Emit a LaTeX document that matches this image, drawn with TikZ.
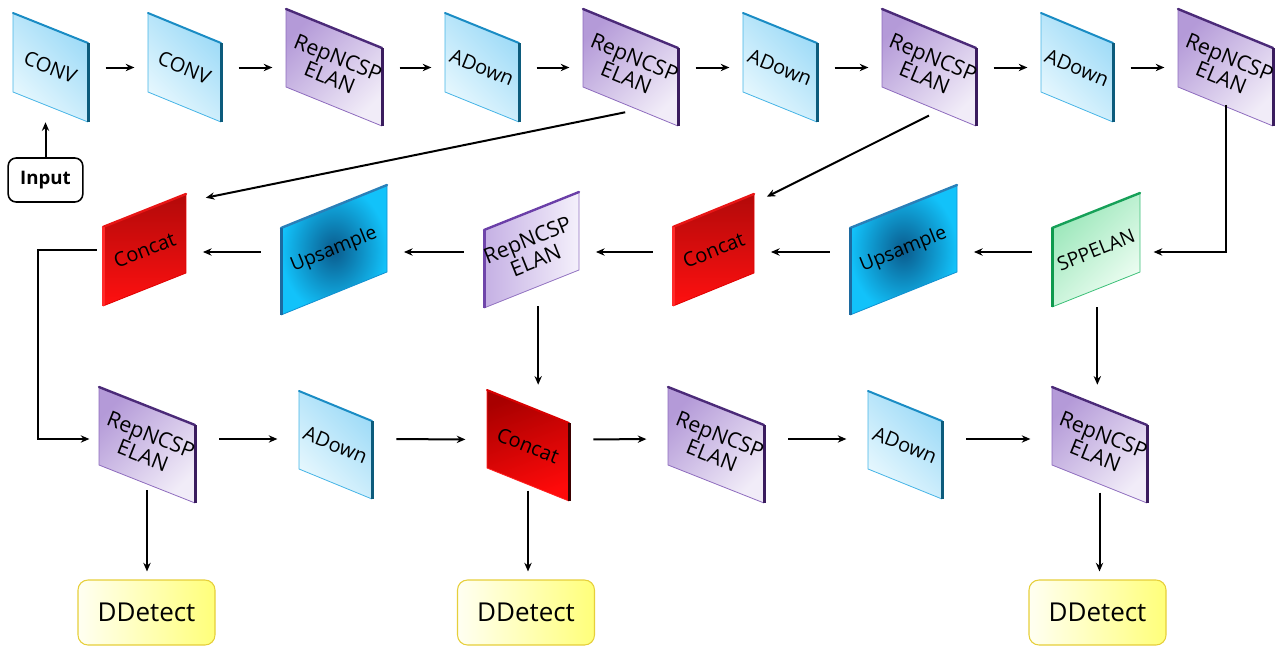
\documentclass[tikz,border=0pt]{standalone}
\usepackage{fontspec}
\setmainfont{Open Sans}
\usetikzlibrary{arrows.meta}
% colours
\definecolor{cCyA}{HTML}{9CDAF7}
\definecolor{cCyB}{HTML}{E8F8FE}
\definecolor{cCyE}{HTML}{1A8CC4}
\definecolor{cCyD}{HTML}{0C5B7C}
\definecolor{cCyL}{HTML}{45B4E6}
\definecolor{cPuA}{HTML}{B49AD8}
\definecolor{cPuB}{HTML}{F1ECF8}
\definecolor{cPuE}{HTML}{4B2A78}
\definecolor{cPuD}{HTML}{3A1C5E}
\definecolor{cPuL}{HTML}{8E6CBE}
\definecolor{cPvA}{HTML}{C5B0E4}
\definecolor{cPvB}{HTML}{F4F0FB}
\definecolor{cPvE}{HTML}{6B3FA8}
\definecolor{cPvD}{HTML}{6F45AA}
\definecolor{cPvL}{HTML}{9070C0}
\definecolor{cRdA}{HTML}{B20A0A}
\definecolor{cRdB}{HTML}{FF1010}
\definecolor{cRdE}{HTML}{E81515}
\definecolor{cRdD}{HTML}{FF2A2A}
\definecolor{cRdL}{HTML}{E00000}
\definecolor{cRbA}{HTML}{A80000}
\definecolor{cRbB}{HTML}{FF0A0A}
\definecolor{cRbE}{HTML}{D80000}
\definecolor{cRbD}{HTML}{3A0000}
\definecolor{cRbL}{HTML}{FF2020}
\definecolor{cUpA}{HTML}{0A5A8C}
\definecolor{cUpB}{HTML}{12C2FA}
\definecolor{cUpE}{HTML}{2A7FB8}
\definecolor{cUpD}{HTML}{1C6AA0}
\definecolor{cUpL}{HTML}{1090D0}
\definecolor{cGrA}{HTML}{98E6B8}
\definecolor{cGrB}{HTML}{F0FEF4}
\definecolor{cGrE}{HTML}{16A058}
\definecolor{cGrD}{HTML}{0E9A4E}
\definecolor{cGrL}{HTML}{3CC078}
\definecolor{cDdA}{HTML}{FFFFF2}
\definecolor{cDdB}{HTML}{FFFF7A}
\definecolor{cDdE}{HTML}{E6CF3A}

\tikzset{
  arr/.style={line width=1.5pt,-{Stealth[length=6.5pt,width=5.5pt]}},
  r1/.style={arr,shorten <=13pt,shorten >=10pt},
  r2/.style={arr,shorten <=15pt,shorten >=12.5pt,transform canvas={yshift=-1.5pt}},
  r3/.style={arr,shorten <=18pt,shorten >=16pt,transform canvas={yshift=4.5pt}},
  btxt/.style={align=center,inner sep=0pt},
  % cyan (CONV / ADown)
  cyF/.style={top color=cCyA,bottom color=cCyB,shading angle=-45},
  cyT/.style={draw=cCyE,line width=1.5pt},
  cyS/.style={draw=cCyD,line width=2.25pt},
  cyL/.style={draw=cCyL,line width=0.6pt},
  cyX/.style={btxt,font=\fontsize{15}{17}\selectfont},
  % purple, falling
  puF/.style={top color=cPuA,bottom color=cPuB,shading angle=45},
  puT/.style={draw=cPuE,line width=1.8pt},
  puS/.style={draw=cPuD,line width=2.25pt},
  puL/.style={draw=cPuL,line width=0.6pt},
  puX/.style={btxt,font=\fontsize{16}{16.5}\selectfont},
  % purple, rising
  pvF/.style={left color=cPvA,right color=cPvB},
  pvT/.style={draw=cPvE,line width=1.8pt},
  pvS/.style={draw=cPvD,line width=2.25pt},
  pvL/.style={draw=cPvL,line width=0.6pt},
  pvX/.style={btxt,font=\fontsize{16}{16.5}\selectfont},
  % red, rising
  rdF/.style={top color=cRdA,bottom color=cRdB},
  rdT/.style={draw=cRdE,line width=1.8pt},
  rdS/.style={draw=cRdD,line width=2.25pt},
  rdL/.style={draw=cRdL,line width=0.6pt},
  rdX/.style={btxt,font=\fontsize{15}{17}\selectfont},
  % red, falling
  rbF/.style={top color=cRbA,bottom color=cRbB,shading angle=20},
  rbT/.style={draw=cRbE,line width=1.5pt},
  rbS/.style={draw=cRbD,line width=2.25pt},
  rbL/.style={draw=cRbL,line width=0.6pt},
  rbX/.style={btxt,font=\fontsize{15}{17}\selectfont},
  % upsample
  upF/.style={inner color=cUpA,outer color=cUpB},
  upT/.style={draw=cUpE,line width=1.8pt},
  upS/.style={draw=cUpD,line width=2.25pt},
  upL/.style={draw=cUpL,line width=0.6pt},
  upX/.style={btxt,font=\fontsize{14.5}{17}\selectfont},
  % green
  grF/.style={top color=cGrA,bottom color=cGrB,shading angle=45},
  grT/.style={draw=cGrE,line width=1.8pt},
  grS/.style={draw=cGrD,line width=2.25pt},
  grL/.style={draw=cGrL,line width=0.6pt},
  grX/.style={btxt,font=\fontsize{14.5}{17}\selectfont},
  ddbox/.style={draw=cDdE,line width=0.8pt,rounded corners=7.5pt,left color=cDdA,right color=cDdB,
    minimum width=102.75pt,minimum height=48.75pt,inner sep=0pt,font=\fontsize{19.5}{22}\selectfont},
  inbox/.style={draw=black,line width=1.2pt,rounded corners=6pt,fill=white,
    minimum width=56pt,minimum height=33pt,inner sep=0pt,font=\bfseries\fontsize{14}{16}\selectfont},
}

% falling panel: name, x1, x2, y top-left, skew, height, kind, text
\newcommand\blkd[8]{%
  \pgfmathsetmacro\bw{#3-#2}%
  \pgfmathsetmacro\bwpt{\bw*0.75}%
  \pgfmathsetmacro\bang{-atan((#5)/\bw)}%
  \pgfmathsetmacro\bcx{(#2+#3)/2}%
  \pgfmathsetmacro\bcy{#4+((#5)+(#6))/2}%
  \pgfmathsetmacro\bhpt{(abs(#5)+#6)*0.75}%
  \pgfmathsetmacro\yb{#4+(#5)}%
  \pgfmathsetmacro\yc{#4+(#5)+(#6)}%
  \pgfmathsetmacro\yd{#4+(#6)}%
  \coordinate (#1-a) at (#2,#4);
  \coordinate (#1-b) at (#3,\yb);
  \coordinate (#1-c) at (#3,\yc);
  \coordinate (#1-d) at (#2,\yd);
  \shade[#7F] (#1-a) -- (#1-b) -- (#1-c) -- (#1-d) -- cycle;
  \draw[#7L] (#1-a) -- (#1-d) -- (#1-c);
  \draw[#7T,line cap=round] (#1-a) -- (#1-b);
  \draw[#7S] (#1-b) -- (#1-c);
  \node[inner sep=0pt,minimum width=\bwpt pt,minimum height=\bhpt pt] (#1) at (\bcx,\bcy) {};
  \node[#7X,rotate=\bang] (#1-t) at (#1.center) {#8};
}
% rising panel
\newcommand\blku[8]{%
  \pgfmathsetmacro\bw{#3-#2}%
  \pgfmathsetmacro\bwpt{\bw*0.75}%
  \pgfmathsetmacro\bang{-atan((#5)/\bw)}%
  \pgfmathsetmacro\bcx{(#2+#3)/2}%
  \pgfmathsetmacro\bcy{#4+((#5)+(#6))/2}%
  \pgfmathsetmacro\bhpt{(abs(#5)+#6)*0.75}%
  \pgfmathsetmacro\yb{#4+(#5)}%
  \pgfmathsetmacro\yc{#4+(#5)+(#6)}%
  \pgfmathsetmacro\yd{#4+(#6)}%
  \coordinate (#1-a) at (#2,#4);
  \coordinate (#1-b) at (#3,\yb);
  \coordinate (#1-c) at (#3,\yc);
  \coordinate (#1-d) at (#2,\yd);
  \shade[#7F] (#1-a) -- (#1-b) -- (#1-c) -- (#1-d) -- cycle;
  \draw[#7L] (#1-b) -- (#1-c) -- (#1-d);
  \draw[#7T,line cap=round] (#1-a) -- (#1-b);
  \draw[#7S] (#1-a) -- (#1-d);
  \node[inner sep=0pt,minimum width=\bwpt pt,minimum height=\bhpt pt] (#1) at (\bcx,\bcy) {};
  \node[#7X,rotate=\bang] (#1-t) at (#1.center) {#8};
}

\begin{document}
\begin{tikzpicture}[x=0.75pt,y=-0.75pt]
\useasboundingbox (0,0) rectangle (1275,646);

% ---- row 1
\blkd{conv1}{13}{88}{13}{30}{79}{cy}{CONV}
\blkd{conv2}{148}{221}{13}{30}{79}{cy}{CONV}
\blkd{rep1}{286}{382}{9}{39}{78}{pu}{RepNCSP\\ELAN}
\blkd{ad1}{445}{519}{13}{30}{79}{cy}{ADown}
\blkd{rep2}{583}{678}{9}{39}{78}{pu}{RepNCSP\\ELAN}
\blkd{ad2}{743}{817}{13}{30}{79}{cy}{ADown}
\blkd{rep3}{882}{976}{9}{39}{78}{pu}{RepNCSP\\ELAN}
\blkd{ad3}{1041}{1113}{13}{30}{79}{cy}{ADown}
\blkd{rep4}{1178}{1273}{9}{39}{78}{pu}{RepNCSP\\ELAN}

% ---- row 2
\blku{catL}{103}{186}{227}{-33}{79}{rd}{Concat}
\blku{upL}{281}{387}{228}{-43}{87}{up}{Upsample}
\blku{repM}{484}{579}{230}{-38}{78}{pv}{RepNCSP\\ELAN}
\blku{catM}{673}{754}{227}{-33}{79}{rd}{Concat}
\blku{upR}{850}{957}{228}{-43}{87}{up}{Upsample}
\blku{spp}{1052}{1140}{228}{-35}{79}{gr}{SPPELAN}

% ---- row 3
\blkd{repbL}{99}{195}{387}{38}{78}{pu}{RepNCSP\\ELAN}
\blkd{adbL}{299}{372}{391}{30}{78}{cy}{ADown}
\blkd{catB}{487}{569}{390}{33}{78}{rb}{Concat}
\blkd{repbM}{668}{764}{387}{38}{78}{pu}{RepNCSP\\ELAN}
\blkd{adbR}{868}{942}{391}{30}{78}{cy}{ADown}
\blkd{repbR}{1052}{1147}{387}{38}{78}{pu}{RepNCSP\\ELAN}

% ---- terminals
\node[inbox] (input) at (45.5,180) {Input};
\node[ddbox] (dd1) at (146.5,612.5) {DDetect};
\node[ddbox] (dd2) at (526,612.5) {DDetect};
\node[ddbox] (dd3) at (1097.5,612.5) {DDetect};

% ---- connectors
\draw[arr] (input.north) -- (input.north |- conv1.south);
\draw[r1] (conv1.east) -- (conv2.west);
\draw[r1] (conv2.east) -- (rep1.west);
\draw[r1] (rep1.east) -- (ad1.west);
\draw[r1] (ad1.east) -- (rep2.west);
\draw[r1] (rep2.east) -- (ad2.west);
\draw[r1] (ad2.east) -- (rep3.west);
\draw[r1] (rep3.east) -- (ad3.west);
\draw[r1] (ad3.east) -- (rep4.west);

\draw[arr,shorten >=10pt] ([yshift=16pt]rep4.south) |- ([yshift=-1.5pt]spp.east);
\draw[arr] ([xshift=-4pt,yshift=10.5pt]rep2.south) -- ([xshift=46pt,yshift=-3pt]catL.north);
\draw[arr] ([yshift=8pt]rep3.south) -- ([xshift=40pt,yshift=-2.25pt]catM.north);

\draw[r2] (spp.west) -- (upR.east);
\draw[r2] (upR.west) -- (catM.east);
\draw[r2] (catM.west) -- (repM.east);
\draw[r2] (repM.west) -- (upL.east);
\draw[r2] (upL.west) -- (catL.east);

\draw[arr] ([xshift=-4.5pt]catL.west) -- ++(-59,0) |- ([xshift=-7pt,yshift=4.5pt]repbL.west);
\draw[arr] ([xshift=5pt,yshift=1.5pt]repM.south) -- ([xshift=5pt,yshift=3.75pt]repM.south |- catB.north);
\draw[arr,shorten >=1.5pt] ([xshift=1pt]spp.south) -- ([xshift=1pt]spp.south |- repbR.north);

\draw[r3] (repbL.east) -- (adbL.west);
\draw[r3] (adbL.east) -- (catB.west);
\draw[r3] (catB.east) -- (repbM.west);
\draw[r3] (repbM.east) -- (adbR.west);
\draw[r3] (adbR.east) -- (repbR.west);

\draw[arr,shorten >=6pt] ([yshift=9.75pt]repbL.south) -- (repbL.south |- dd1.north);
\draw[arr,shorten >=6pt] ([yshift=8pt]catB.south) -- (catB.south |- dd2.north);
\draw[arr,shorten >=6pt] ([yshift=8pt]repbR.south) -- (repbR.south |- dd3.north);
\end{tikzpicture}
\end{document}
